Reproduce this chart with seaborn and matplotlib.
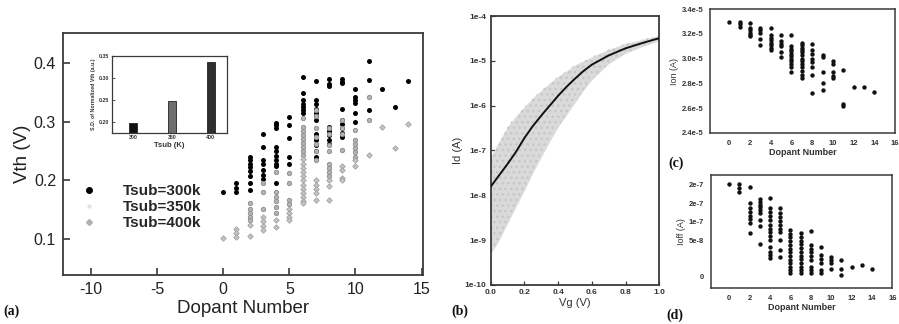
import numpy as np
import pandas as pd
import matplotlib
matplotlib.use("Agg")
import matplotlib.pyplot as plt
from matplotlib.lines import Line2D
import seaborn as sns

sns.set_style("white")
plt.rcParams['font.family'] = ['Liberation Sans', 'DejaVu Sans']

# ---------------- data ----------------
# (a) Vth vs dopant number for three substrate temperatures
vth_300 = {0: [0.181], 1: [0.195, 0.188, 0.181],
           2: [0.241, 0.235, 0.229, 0.223, 0.216, 0.208, 0.196, 0.184],
           3: [0.280, 0.258, 0.235, 0.228, 0.218, 0.210, 0.202],
           4: [0.299, 0.294, 0.289, 0.258, 0.250, 0.242, 0.235, 0.229, 0.224, 0.195],
           5: [0.309, 0.294, 0.272, 0.240, 0.229],
           6: [0.377, 0.349, 0.337, 0.331, 0.325, 0.320, 0.315],
           7: [0.370, 0.337, 0.330, 0.323, 0.316, 0.310, 0.303, 0.280, 0.270, 0.260, 0.250, 0.240],
           8: [0.373, 0.365, 0.361, 0.292, 0.285, 0.278, 0.270, 0.263],
           9: [0.373, 0.369, 0.366, 0.323, 0.303, 0.296, 0.289, 0.282, 0.275],
           10: [0.356, 0.343, 0.338, 0.332, 0.315, 0.300],
           11: [0.404, 0.372, 0.320], 12: [0.356], 13: [0.326], 14: [0.370]}
vth_350 = {2: [0.161, 0.152, 0.145, 0.138, 0.132],
           3: [0.196, 0.181, 0.152],
           4: [0.215, 0.181, 0.172, 0.165, 0.155, 0.144],
           5: [0.212, 0.195, 0.167, 0.160],
           6: [0.306, 0.292, 0.285, 0.278, 0.271, 0.264, 0.257, 0.250, 0.243],
           7: [0.320, 0.310, 0.290, 0.275, 0.262, 0.250, 0.235],
           8: [0.290, 0.280, 0.260, 0.250, 0.229, 0.222, 0.215, 0.208],
           9: [0.303, 0.290, 0.280, 0.252],
           10: [0.286, 0.269, 0.262, 0.255, 0.248, 0.240],
           11: [0.343, 0.303]}
vth_400 = {0: [0.102], 1: [0.117, 0.110, 0.103], 2: [0.124, 0.105],
           3: [0.138, 0.130, 0.122, 0.115], 4: [0.132, 0.121],
           5: [0.152, 0.145, 0.138, 0.133],
           6: [0.236, 0.229, 0.222, 0.215, 0.208, 0.200, 0.193, 0.186, 0.179, 0.172, 0.165, 0.161],
           7: [0.200, 0.192, 0.185, 0.178, 0.167],
           8: [0.200, 0.190, 0.167], 9: [0.224, 0.218, 0.204, 0.200],
           10: [0.235, 0.224], 11: [0.243], 12: [0.291], 13: [0.256], 14: [0.296]}
series_labels = ["Tsub=300k", "Tsub=350k", "Tsub=400k"]

# inset: S.D. of normalized Vth
tsub = ["300", "350", "400"]
sd_vth = [0.198, 0.248, 0.336]

# (b) Id-Vg curves
vg = [0.0, 0.05, 0.1, 0.15, 0.2, 0.25, 0.3, 0.35, 0.4, 0.45, 0.5, 0.55, 0.6, 0.7, 0.8, 0.9, 1.0]
id_nominal = [1.55e-8, 2.8e-8, 5.0e-8, 9.3e-8, 1.9e-7, 3.5e-7, 6.0e-7, 1.0e-6, 1.66e-6,
              2.63e-6, 4.0e-6, 5.9e-6, 8.2e-6, 1.32e-5, 1.9e-5, 2.5e-5, 3.2e-5]
id_upper = [7.2e-8, 1.6e-7, 3.4e-7, 5.9e-7, 9.5e-7, 1.5e-6, 2.2e-6, 3.2e-6, 4.5e-6,
            6.0e-6, 8.1e-6, 1.0e-5, 1.23e-5, 1.8e-5, 2.45e-5, 3.0e-5, 3.7e-5]
id_lower = [5e-10, 1e-9, 2.4e-9, 5.6e-9, 1.3e-8, 3.2e-8, 7.2e-8, 1.6e-7, 3.4e-7,
            6.3e-7, 1.17e-6, 2.2e-6, 3.8e-6, 8.7e-6, 1.48e-5, 2.1e-5, 2.8e-5]
b_yticks = [1e-10, 1e-9, 1e-8, 1e-7, 1e-6, 1e-5, 1e-4]
b_yticklabels = ["1e-10", "1e-9", "1e-8", "1e-7", "1e-6", "1e-5", "1e-4"]

# (c) Ion (units of 1e-5 A)
ion = {0: [3.30], 1: [3.30, 3.28, 3.26], 2: [3.29, 3.245, 3.23, 3.21, 3.195, 3.18],
       3: [3.245, 3.23, 3.21, 3.16, 3.11],
       4: [3.245, 3.19, 3.17, 3.15, 3.13, 3.11, 3.09, 3.07],
       5: [3.19, 3.14, 3.12, 3.10, 3.05, 3.01],
       6: [3.19, 3.10, 3.08, 3.06, 3.04, 3.02, 3.00, 2.98, 2.96, 2.93, 2.89],
       7: [3.13, 3.11, 3.09, 3.07, 3.05, 3.03, 3.00, 2.98, 2.96, 2.93, 2.90, 2.87, 2.84],
       8: [3.12, 3.07, 3.04, 3.00, 2.97, 2.93, 2.87, 2.72],
       9: [3.03, 3.01, 2.89, 2.80, 2.75], 10: [2.98, 2.96, 2.89, 2.86, 2.84],
       11: [2.91, 2.63, 2.62], 12: [2.77], 13: [2.77], 14: [2.73]}
c_yticks = [2.4, 2.6, 2.8, 3.0, 3.2, 3.4]
c_yticklabels = ["2.4e-5", "2.6e-5", "2.8e-5", "3.0e-5", "3.2e-5", "3.4e-5"]

# (d) Ioff (units of 1e-7 A)
ioff = {0: [2.52], 1: [2.52, 2.41, 2.29],
        2: [2.43, 1.98, 1.85, 1.75, 1.65, 1.55, 1.45, 1.19],
        3: [2.09, 2.02, 1.95, 1.88, 1.80, 1.73, 1.53, 1.37, 0.87],
        4: [2.12, 1.85, 1.75, 1.63, 1.52, 1.41, 1.30, 1.20, 1.09, 0.99, 0.79, 0.68, 0.58, 0.50],
        5: [1.87, 1.71, 1.61, 1.50, 1.40, 1.30, 1.22, 0.99, 0.72, 0.54],
        6: [1.26, 1.16, 1.06, 0.96, 0.86, 0.76, 0.66, 0.56, 0.46, 0.36, 0.26, 0.17, 0.09],
        7: [1.17, 1.07, 0.97, 0.87, 0.77, 0.67, 0.57, 0.47, 0.37, 0.27, 0.17, 0.09],
        8: [1.24, 0.86, 0.76, 0.66, 0.56, 0.45, 0.25, 0.17, 0.11],
        9: [0.79, 0.59, 0.48, 0.38, 0.18, 0.11], 10: [0.52, 0.44, 0.36, 0.20],
        11: [0.45, 0.20, 0.05], 12: [0.25], 13: [0.32], 14: [0.20]}
d_yticks = [0.0, 0.99, 1.49, 1.99, 2.50]
d_yticklabels = ["0", "5e-8", "1e-7", "2e-7", "2e-7"]


def to_frame(d, name):
    rows = [(k, v) for k, vals in d.items() for v in vals]
    return pd.DataFrame(rows, columns=["Dopant", name])


EDGE = "#3a3a3a"


def box(ax, lw=1.2):
    for s in ax.spines.values():
        s.set_visible(True)
        s.set_color(EDGE)
        s.set_linewidth(lw)


fig = plt.figure(figsize=(8.99, 3.24), dpi=100)
fig.patch.set_facecolor("white")

# ---------------- (a) ----------------
axa = fig.add_axes([0.0701, 0.1512, 0.4004, 0.7469])
styles = [dict(color="black", marker="o", s=13, edgecolor="black", linewidth=0),
          dict(color="#b4b4b4", marker="o", s=10, edgecolor="#8a8a8a", linewidth=0.6),
          dict(color="#c4c4c4", marker="D", s=8, edgecolor="#9a9a9a", linewidth=0.5)]
for d, st in zip([vth_300, vth_350, vth_400], styles):
    df = to_frame(d, "Vth")
    sns.scatterplot(data=df, x="Dopant", y="Vth", ax=axa, legend=False, zorder=3, **st)
axa.set_xlim(-12.1, 15.1)
axa.set_ylim(0.0385, 0.452)
axa.set_xticks([-10, -5, 0, 5, 10, 15])
axa.set_yticks([0.1, 0.2, 0.3, 0.4])
axa.set_xticklabels(["-10", "-5", "0", "5", "10", "15"])
axa.set_yticklabels(["0.1", "0.2", "0.3", "0.4"])
axa.tick_params(direction="in", length=5, width=1.2, colors=EDGE, labelcolor="#222222",
                labelsize=11.5, bottom=True, left=True, pad=5)
axa.set_xlabel("Dopant Number", fontsize=13.5, color="#222222", labelpad=2)
axa.set_ylabel("Vth (V)", fontsize=13.5, color="#222222", labelpad=2)
box(axa, 1.3)
handles = [Line2D([], [], ls="none", marker="o", color="black", markersize=4),
           Line2D([], [], ls="none", marker="o", color="#e2e2e2", markersize=2),
           Line2D([], [], ls="none", marker="D", color="#b0b0b0", markersize=3)]
axa.legend(handles, series_labels, loc="upper left", bbox_to_anchor=(0.03, 0.40),
           frameon=False, prop={"weight": "bold", "size": 11}, labelspacing=0.12,
           handletextpad=1.6, handlelength=1.2, borderaxespad=0)

# inset
axi = fig.add_axes([0.1242, 0.5904, 0.1279, 0.2367])
sns.barplot(x=tsub, y=sd_vth, ax=axi, palette=["#111111", "#6e6e6e", "#2e2e2e"],
            hue=tsub, legend=False, width=0.2, edgecolor="#222222", linewidth=0.6)
axi.set_ylim(0.1755, 0.35)
axi.set_xlim(-0.55, 2.41)
axi.set_yticks([0.20, 0.25, 0.30, 0.35])
axi.set_yticklabels(["0.20", "0.25", "0.30", "0.35"])
axi.tick_params(direction="in", length=2, width=0.6, labelsize=3.8, pad=2, colors=EDGE,
                labelcolor="#333333", bottom=True, left=True)
for t in axi.get_xticklabels() + axi.get_yticklabels():
    t.set_fontweight("bold")
axi.set_xlabel("Tsub (K)", fontsize=5.5, fontweight="bold", labelpad=1, color="#333333")
axi.set_ylabel("S.D. of Normalized Vth (a.u.)", fontsize=3.8, fontweight="bold",
               labelpad=2, color="#333333")
box(axi, 0.9)

# ---------------- (b) ----------------
axb = fig.add_axes([0.5458, 0.1204, 0.1875, 0.8302])
axb.set_yscale("log")
axb.fill_between(vg, id_lower, id_upper, color="#dadada", linewidth=0, zorder=1)
axb.fill_between(vg, id_lower, id_upper, facecolor="none", edgecolor="#c6c6c6",
                 hatch="...", linewidth=0, zorder=1)
sns.lineplot(x=vg, y=id_nominal, ax=axb, color="#111111", linewidth=1.4, zorder=3)
axb.set_xlim(0, 1.0)
axb.set_ylim(1e-10, 1e-4)
axb.set_yticks(b_yticks)
axb.set_yticklabels(b_yticklabels)
axb.yaxis.set_minor_locator(matplotlib.ticker.NullLocator())
axb.set_xticks([0.0, 0.2, 0.4, 0.6, 0.8, 1.0])
axb.set_xticklabels(["0.0", "0.2", "0.4", "0.6", "0.8", "1.0"])
axb.tick_params(direction="in", length=3, width=0.9, labelsize=6, pad=3, colors=EDGE,
                labelcolor="#333333", bottom=True, left=True)
for t in axb.get_xticklabels() + axb.get_yticklabels():
    t.set_fontweight("bold")
axb.set_xlabel("Vg (V)", fontsize=8, color="#333333", labelpad=1)
axb.set_ylabel("Id (A)", fontsize=8, color="#333333", labelpad=1)
box(axb, 1.3)

# ---------------- (c) ----------------
axc = fig.add_axes([0.7898, 0.5904, 0.2058, 0.3809])
sns.scatterplot(data=to_frame(ion, "Ion"), x="Dopant", y="Ion", ax=axc, color="#111111",
                s=10, linewidth=0, legend=False)
axc.set_xlim(-1.86, 16)
axc.set_ylim(2.4, 3.4)
axc.set_yticks(c_yticks)
axc.set_yticklabels(c_yticklabels)
axc.set_xticks(list(range(0, 17, 2)))
axc.set_xticklabels([str(v) for v in range(0, 17, 2)])
axc.tick_params(direction="in", length=0, labelsize=5.5, pad=5, labelcolor="#333333")
for t in axc.get_xticklabels() + axc.get_yticklabels():
    t.set_fontweight("bold")
axc.set_xlabel("Dopant Number", fontsize=6.5, fontweight="bold", color="#333333", labelpad=1)
axc.set_ylabel("Ion (A)", fontsize=6.5, color="#333333", labelpad=2)
box(axc, 1.1)

# ---------------- (d) ----------------
axd = fig.add_axes([0.7905, 0.1120, 0.2021, 0.3478])
sns.scatterplot(data=to_frame(ioff, "Ioff"), x="Dopant", y="Ioff", ax=axd, color="#111111",
                s=10, linewidth=0, legend=False)
axd.set_xlim(-1.83, 16)
axd.set_ylim(-0.30, 2.75)
axd.set_yticks(d_yticks)
axd.set_yticklabels(d_yticklabels)
axd.set_xticks(list(range(0, 17, 2)))
axd.set_xticklabels([str(v) for v in range(0, 17, 2)])
axd.tick_params(direction="in", length=0, labelsize=5.5, pad=5, labelcolor="#333333")
for t in axd.get_xticklabels() + axd.get_yticklabels():
    t.set_fontweight("bold")
axd.set_xlabel("Dopant Number", fontsize=6.5, fontweight="bold", color="#333333", labelpad=1)
axd.set_ylabel("Ioff (A)", fontsize=6.5, color="#333333", labelpad=2)
box(axd, 1.1)

# panel letters
for txt, x, y in [("(a)", 12, 311), ("(b)", 460, 311), ("(c)", 676, 163), ("(d)", 675, 315)]:
    fig.text(x / 899, 1 - y / 324, txt, fontsize=10, fontweight="bold",
             family=["Liberation Serif", "DejaVu Serif"], ha="center", va="center", color="#111111")

fig.savefig("out.png", dpi=100, facecolor="white")
